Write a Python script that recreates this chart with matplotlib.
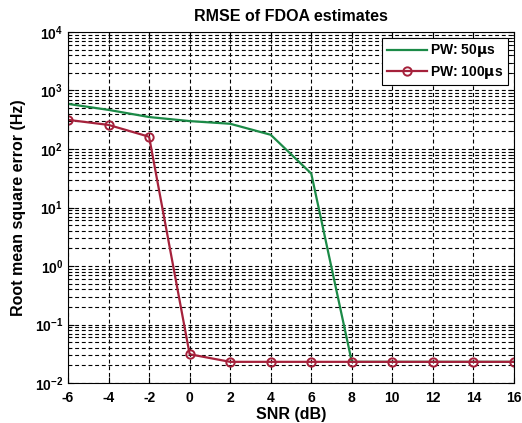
import matplotlib
matplotlib.use("Agg")
import matplotlib.pyplot as plt
from matplotlib.ticker import FixedLocator, LogLocator, NullFormatter, LogFormatterSciNotation

snr = [-6, -4, -2, 0, 2, 4, 6, 8, 10, 12, 14, 16]
rmse_pw50 = [590, 466, 352, 300, 270, 175, 38, 0.023, 0.023, 0.023, 0.023, 0.023]
rmse_pw100 = [315, 258, 162, 0.031, 0.023, 0.023, 0.023, 0.023, 0.023, 0.023, 0.023, 0.023]
xticks = [-6, -4, -2, 0, 2, 4, 6, 8, 10, 12, 14, 16]
yticks = [1e-2, 1e-1, 1e0, 1e1, 1e2, 1e3, 1e4]

plt.rcParams['font.family'] = ['Liberation Sans', 'DejaVu Sans']
plt.rcParams['font.weight'] = 'bold'
plt.rcParams['mathtext.default'] = 'bf'

fig = plt.figure(figsize=(5.22, 4.23), dpi=100)
ax = fig.add_axes([68/522, 1-383/423, (514-68)/522, (383-32)/423])

ax.semilogy(snr, rmse_pw50, color='#1b8a47', lw=1.6, label='PW: 50$\\mu$s')
ax.semilogy(snr, rmse_pw100, color='#a5213b', lw=1.6, marker='o', ms=6,
            mfc='none', mew=1.4, label='PW: 100$\\mu$s')

ax.set_xlim(-6, 16)
ax.set_ylim(1e-2, 1e4)
ax.set_xticks(xticks)
ax.set_xticklabels([str(t) for t in xticks], fontweight='bold', fontsize=10)
ax.yaxis.set_major_locator(FixedLocator(yticks))
ax.yaxis.set_major_formatter(LogFormatterSciNotation())
minor = [m * 10.0**e for e in range(-2, 4) for m in range(2, 10)]
ax.yaxis.set_minor_locator(FixedLocator(minor))
ax.yaxis.set_minor_formatter(NullFormatter())
ax.tick_params(axis='y', labelsize=10)

ax.grid(True, which='major', color='black', ls=(0, (3.5, 2.5)), lw=0.8)
ax.grid(True, which='minor', axis='y', color='black', ls=(0, (3.5, 2.5)), lw=0.8)
ax.tick_params(which='both', direction='in', top=True, right=True, length=4)
ax.tick_params(which='minor', length=2)
ax.tick_params(axis='x', pad=6)

ax.set_title('RMSE of FDOA estimates', fontweight='bold', fontsize=11.5, pad=8)
ax.set_xlabel('SNR (dB)', fontweight='bold', fontsize=11.5, labelpad=1)
ax.set_ylabel('Root mean square error (Hz)', fontweight='bold', fontsize=11.5,
              labelpad=6)

leg = ax.legend(loc='upper right', fancybox=False, edgecolor='black',
                framealpha=1, prop={'weight': 'bold', 'size': 10},
                handlelength=2.9, handletextpad=0.25, borderpad=0.3,
                labelspacing=0.3, borderaxespad=0.45)
leg.get_frame().set_linewidth(0.8)

fig.savefig('out.png', dpi=100)
